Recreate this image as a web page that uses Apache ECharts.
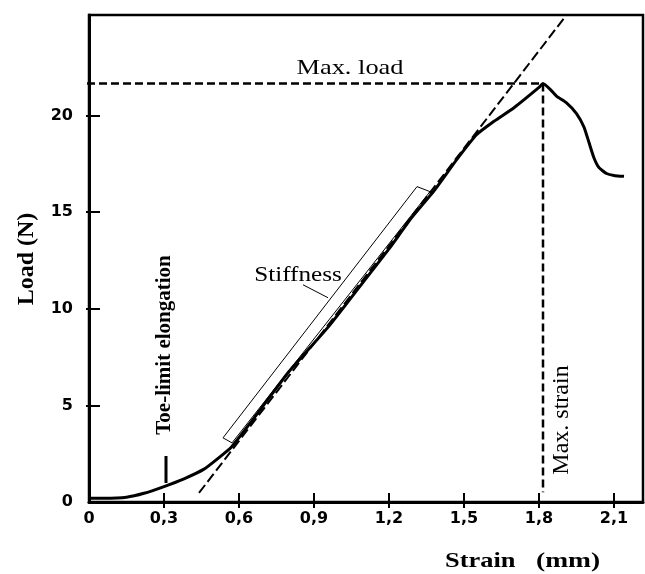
<!DOCTYPE html>
<html>
<head>
<meta charset="utf-8">
<script src="https://cdn.jsdelivr.net/npm/echarts@6/dist/echarts.min.js"></script>
<style>html,body{margin:0;padding:0;background:#fff;}#c{width:645px;height:574px;}</style>
</head>
<body>
<div id="c"></div>
<script>
// Load–strain curve
const strain = [0, 0.06, 0.15, 0.22, 0.3, 0.38, 0.46, 0.52, 0.57, 0.64, 0.8, 0.96, 1.11, 1.2, 1.29, 1.38, 1.47, 1.55, 1.62, 1.7, 1.8, 1.816, 1.845, 1.87, 1.91, 1.95, 1.98, 2.0, 2.02, 2.04, 2.07, 2.1, 2.14];
const load   = [0.2, 0.2, 0.25, 0.45, 0.8, 1.2, 1.7, 2.3, 2.85, 4.0, 6.75, 9.1, 11.6, 13.1, 14.7, 16.1, 17.7, 19.0, 19.7, 20.4, 21.45, 21.65, 21.35, 21.0, 20.65, 20.1, 19.4, 18.6, 17.8, 17.3, 17.0, 16.9, 16.85];
// stiffness tangent line
const tangentX = [0.44, 1.91];
const tangentY = [0.47, 25.2];
// max load / max strain
const maxLoad = 21.65;
const maxStrain = 1.816;
const maxLoadLineStart = -0.056;
const maxStrainLineEnd = 0.5;
// toe-limit marker
const toeX = 0.308;
const toeY = [0.98, 2.38];
// stiffness box and leader
const boxX = [0.536, 1.312, 1.364, 0.572, 0.536];
const boxY = [3.32, 16.32, 16.06, 3.06, 3.32];
const leaderX = [0.856, 0.956];
const leaderY = [11.24, 10.57];
// axes and tick labels
const xMin = 0, xMax = 2.216;
const yMin = 0, yMax = 25.2;
const xTicks = [0, 0.3, 0.6, 0.9, 1.2, 1.5, 1.8, 2.1];
const xTickLabels = ['0', '0,3', '0,6', '0,9', '1,2', '1,5', '1,8', '2,1'];
const yTicks = [0, 5, 10, 15, 20];
const yTickLabels = ['0', '5', '10', '15', '20'];

const zip = (a, b) => a.map((v, i) => [v, b[i]]);
const labelOf = (ticks, labels) => v => {
  const i = ticks.findIndex(t => Math.abs(t - v) < 1e-6);
  return i >= 0 ? labels[i] : '';
};

const chart = echarts.init(document.getElementById('c'), null, {renderer: 'canvas'});
const tickFont = {fontFamily: 'DejaVu Sans', fontWeight: 'bold', fontSize: 16, color: '#000'};
const serif = 'Liberation Serif';

chart.setOption({
  backgroundColor: '#fff',
  animation: false,
  grid: {left: 89, right: 2, top: 15, bottom: 72, show: true, borderColor: '#000', borderWidth: 2.5, backgroundColor: 'transparent'},
  xAxis: [
    {type: 'value', min: xMin, max: xMax, position: 'bottom',
     axisLine: {show: true, lineStyle: {color: '#000', width: 3}},
     axisTick: {show: true, inside: true, length: 9, customValues: xTicks, lineStyle: {color: '#000', width: 2}},
     axisLabel: Object.assign({margin: 9, customValues: xTicks, formatter: labelOf(xTicks, xTickLabels)}, tickFont),
     splitLine: {show: false}},
    {type: 'value', min: xMin, max: xMax, position: 'bottom',
     axisLine: {show: false},
     axisTick: {show: true, inside: false, length: 6, customValues: xTicks.slice(1), lineStyle: {color: '#000', width: 2}},
     axisLabel: {show: false}, splitLine: {show: false}}
  ],
  yAxis: [
    {type: 'value', min: yMin, max: yMax, position: 'left',
     axisLine: {show: true, lineStyle: {color: '#000', width: 3}},
     axisTick: {show: true, inside: true, length: 11, customValues: yTicks, lineStyle: {color: '#000', width: 2}},
     axisLabel: Object.assign({margin: 16, customValues: yTicks, formatter: labelOf(yTicks, yTickLabels)}, tickFont),
     splitLine: {show: false}},
    {type: 'value', min: yMin, max: yMax, position: 'left',
     axisLine: {show: false},
     axisTick: {show: true, inside: false, length: 3, customValues: yTicks.slice(1), lineStyle: {color: '#000', width: 2}},
     axisLabel: {show: false}, splitLine: {show: false}}
  ],
  series: [
    {type: 'line', name: 'curve', data: zip(strain, load), smooth: 0.15, showSymbol: false, symbol: 'none',
     lineStyle: {color: '#000', width: 3}, z: 5},
    {type: 'line', name: 'tangent', data: zip(tangentX, tangentY), showSymbol: false, symbol: 'none', clip: false,
     lineStyle: {color: '#000', width: 2, type: [10, 4]}, z: 4},
    {type: 'line', name: 'maxload', data: [[maxLoadLineStart, maxLoad], [maxStrain, maxLoad]], showSymbol: false, symbol: 'none', clip: false,
     lineStyle: {color: '#000', width: 2.5, type: [8, 4]}, z: 4},
    {type: 'line', name: 'maxstrain', data: [[maxStrain, maxLoad], [maxStrain, maxStrainLineEnd]], showSymbol: false, symbol: 'none', clip: false,
     lineStyle: {color: '#000', width: 2.5, type: [8, 4]}, z: 4},
    {type: 'line', name: 'toe', data: [[toeX, toeY[0]], [toeX, toeY[1]]], showSymbol: false, symbol: 'none',
     lineStyle: {color: '#000', width: 3}, z: 4},
    {type: 'line', name: 'box', data: zip(boxX, boxY), showSymbol: false, symbol: 'none',
     lineStyle: {color: '#000', width: 1}, z: 3},
    {type: 'line', name: 'leader', data: zip(leaderX, leaderY), showSymbol: false, symbol: 'none',
     lineStyle: {color: '#000', width: 1}, z: 3}
  ],
  graphic: [
    {type: 'text', x: 350, y: 68, scaleX: 1.2, style: {text: 'Max. load', fontFamily: serif, fontSize: 22, fill: '#000', align: 'center', verticalAlign: 'middle', textAlign: 'center', textVerticalAlign: 'middle'}},
    {type: 'text', x: 298, y: 275, scaleX: 1.2, style: {text: 'Stiffness', fontFamily: serif, fontSize: 21, fill: '#000', align: 'center', verticalAlign: 'middle', textAlign: 'center', textVerticalAlign: 'middle'}},
    {type: 'text', x: 165, y: 345, rotation: Math.PI / 2, style: {text: 'Toe-limit elongation', fontFamily: serif, fontWeight: 'bold', fontSize: 21, fill: '#000', align: 'center', verticalAlign: 'middle', textAlign: 'center', textVerticalAlign: 'middle'}},
    {type: 'text', x: 562, y: 420, rotation: Math.PI / 2, style: {text: 'Max. strain', fontFamily: serif, fontSize: 24, fill: '#000', align: 'center', verticalAlign: 'middle', textAlign: 'center', textVerticalAlign: 'middle'}},
    {type: 'text', x: 27, y: 259, rotation: Math.PI / 2, style: {text: 'Load (N)', fontFamily: serif, fontWeight: 'bold', fontSize: 24, fill: '#000', align: 'center', verticalAlign: 'middle', textAlign: 'center', textVerticalAlign: 'middle'}},
    {type: 'text', x: 445, y: 561, scaleX: 1.2, style: {text: 'Strain', fontFamily: serif, fontWeight: 'bold', fontSize: 22, fill: '#000', align: 'left', verticalAlign: 'middle', textAlign: 'left', textVerticalAlign: 'middle'}},
    {type: 'text', x: 536, y: 561, scaleX: 1.25, style: {text: '(mm)', fontFamily: serif, fontWeight: 'bold', fontSize: 22, fill: '#000', align: 'left', verticalAlign: 'middle', textAlign: 'left', textVerticalAlign: 'middle'}}
  ]
});
</script>
</body>
</html>
